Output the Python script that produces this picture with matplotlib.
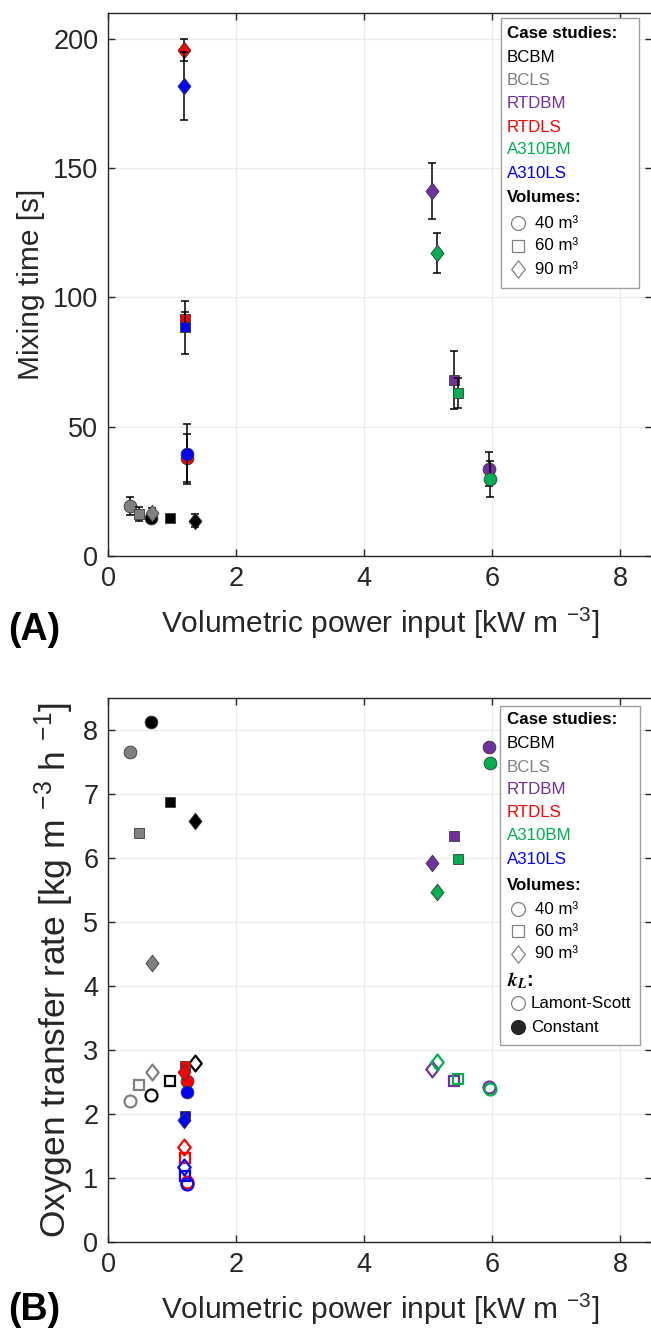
import matplotlib
matplotlib.use("Agg")
import matplotlib.pyplot as plt
from matplotlib.path import Path
from matplotlib.lines import Line2D
from matplotlib.patches import Rectangle

plt.rcParams['font.family'] = ['Liberation Sans', 'DejaVu Sans']
plt.rcParams['mathtext.fontset'] = 'custom'
plt.rcParams['mathtext.rm'] = 'Liberation Sans'
plt.rcParams['mathtext.it'] = 'Liberation Sans:italic'
plt.rcParams['mathtext.bf'] = 'Liberation Sans:bold'

# ---------------- data ----------------
cases = ['BCBM', 'BCLS', 'RTDBM', 'RTDLS', 'A310BM', 'A310LS']
case_colors = ['#000000', '#808080', '#7030A0', '#FF0000', '#00B050', '#0000FF']
volumes = ['40 m³', '60 m³', '90 m³']

# volumetric power input [kW m-3] for 40, 60, 90 m3
power_bcbm = [0.67, 0.97, 1.36]
power_bcls = [0.34, 0.49, 0.68]
power_rtdbm = [5.96, 5.40, 5.07]
power_rtdls = [1.23, 1.21, 1.19]
power_a310bm = [5.97, 5.47, 5.14]
power_a310ls = [1.23, 1.21, 1.19]

# mixing time [s]
mix_bcbm = [14.6, 14.7, 13.6]
mix_bcls = [19.5, 16.3, 16.5]
mix_rtdbm = [33.6, 68.0, 141.2]
mix_rtdls = [38.0, 91.7, 195.7]
mix_a310bm = [29.7, 63.1, 117.3]
mix_a310ls = [39.4, 88.5, 181.8]

mixerr_bcbm = [1.0, 1.0, 2.5]
mixerr_bcls = [3.5, 2.7, 2.0]
mixerr_rtdbm = [6.6, 11.3, 10.8]
mixerr_rtdls = [9.2, 2.6, 4.3]
mixerr_a310bm = [7.0, 5.7, 7.7]
mixerr_a310ls = [11.7, 10.2, 13.2]

# oxygen transfer rate [kg m-3 h-1], Lamont-Scott kL
otr_ls_bcbm = [2.29, 2.51, 2.79]
otr_ls_bcls = [2.21, 2.46, 2.65]
otr_ls_rtdbm = [2.42, 2.52, 2.71]
otr_ls_rtdls = [0.94, 1.31, 1.48]
otr_ls_a310bm = [2.39, 2.54, 2.81]
otr_ls_a310ls = [0.91, 1.03, 1.17]

# oxygen transfer rate, constant kL
otr_c_bcbm = [8.13, 6.88, 6.58]
otr_c_bcls = [7.66, 6.39, 4.36]
otr_c_rtdbm = [7.73, 6.34, 5.92]
otr_c_rtdls = [2.52, 2.75, 2.65]
otr_c_a310bm = [7.48, 5.99, 5.47]
otr_c_a310ls = [2.35, 1.97, 1.90]

power = [power_bcbm, power_bcls, power_rtdbm, power_rtdls, power_a310bm, power_a310ls]
mix = [mix_bcbm, mix_bcls, mix_rtdbm, mix_rtdls, mix_a310bm, mix_a310ls]
mixerr = [mixerr_bcbm, mixerr_bcls, mixerr_rtdbm, mixerr_rtdls, mixerr_a310bm, mixerr_a310ls]
otr_ls = [otr_ls_bcbm, otr_ls_bcls, otr_ls_rtdbm, otr_ls_rtdls, otr_ls_a310bm, otr_ls_a310ls]
otr_c = [otr_c_bcbm, otr_c_bcls, otr_c_rtdbm, otr_c_rtdls, otr_c_a310bm, otr_c_a310ls]

# ---------------- styles ----------------
diamond = Path([(0, 1), (0.78, 0), (0, -1), (-0.78, 0), (0, 1)],
               [Path.MOVETO, Path.LINETO, Path.LINETO, Path.LINETO, Path.CLOSEPOLY])
markers = ['o', 's', diamond]
msizes = [9.2, 7.6, 12.0]
edge_dark = '#3a3a3a'
spine_col = '#262626'
grid_col = '#EBEBEB'

W, H = 651, 1330
fig = plt.figure(figsize=(W / 100, H / 100), dpi=100)


def fx(px):
    return px / W


def fy(py):
    return 1 - py / H


axA = fig.add_axes([fx(108), fy(556), (652 - 108) / W, (556 - 13) / H])
axB = fig.add_axes([fx(108), fy(1242), (652 - 108) / W, (1242 - 698) / H])

tick_fs = 19.5
label_fs = 21.5

for ax in (axA, axB):
    ax.set_xlim(0, 8.5)
    ax.set_xticks([0, 2, 4, 6, 8])
    ax.grid(True, color=grid_col, linewidth=0.9)
    ax.set_axisbelow(True)
    for s in ax.spines.values():
        s.set_color(spine_col)
        s.set_linewidth(1.0)
    ax.tick_params(direction='in', length=5, width=1.0, color=spine_col,
                   labelsize=tick_fs, top=True, right=True, labelcolor=spine_col,
                   pad=7)
    ax.set_xlabel('Volumetric power input [kW m $^{-3}$]', fontsize=label_fs,
                  color=spine_col, labelpad=10)

# ---------------- panel A ----------------
axA.set_ylim(0, 210)
axA.set_yticks([0, 50, 100, 150, 200])
axA.set_ylabel('Mixing time [s]', fontsize=label_fs, color=spine_col, labelpad=6)
z = 3
for ci in range(len(cases)):
    for vi in range(3):
        axA.errorbar([power[ci][vi]], [mix[ci][vi]], yerr=[mixerr[ci][vi]],
                     fmt='none', ecolor='black', elinewidth=1.1, capsize=3,
                     capthick=1.1, zorder=z)
        axA.plot([power[ci][vi]], [mix[ci][vi]], linestyle='none',
                 marker=markers[vi], markersize=msizes[vi],
                 markerfacecolor=case_colors[ci], markeredgecolor=edge_dark,
                 markeredgewidth=0.6, zorder=z + 0.5)
        z += 1

# ---------------- panel B ----------------
axB.set_ylim(0, 8.5)
axB.set_yticks(range(0, 9))
axB.set_ylabel('Oxygen transfer rate [kg m $^{-3}$ h $^{-1}$]', fontsize=25.5,
               color=spine_col, labelpad=5)
z = 3
for ci in range(len(cases)):
    for vi in range(3):
        axB.plot([power[ci][vi]], [otr_ls[ci][vi]], linestyle='none',
                 marker=markers[vi], markersize=msizes[vi] - 0.6,
                 markerfacecolor='none', markeredgecolor=case_colors[ci],
                 markeredgewidth=1.6, zorder=z)
        z += 1
for ci in range(len(cases)):
    for vi in range(3):
        axB.plot([power[ci][vi]], [otr_c[ci][vi]], linestyle='none',
                 marker=markers[vi], markersize=msizes[vi],
                 markerfacecolor=case_colors[ci], markeredgecolor=edge_dark,
                 markeredgewidth=0.6, zorder=z)
        z += 1

# panel labels
fig.text(fx(8), fy(630), '(A)', fontsize=27, fontweight='bold', va='center', ha='left')
fig.text(fx(8), fy(1310), '(B)', fontsize=27, fontweight='bold', va='center', ha='left')

# ---------------- legends (drawn manually) ----------------
leg_fs = 12.2


def draw_legend(box, rows):
    x0, y0, x1, y1 = box
    fig.add_artist(Rectangle((fx(x0), fy(y1)), fx(x1) - fx(x0), (y1 - y0) / H,
                             transform=fig.transFigure, facecolor='white',
                             edgecolor='#A0A0A0', linewidth=1.0, zorder=10))
    for kind, txt, yc, extra in rows:
        if kind == 'head':
            fig.text(fx(507), fy(yc), txt, fontsize=leg_fs, fontweight='bold',
                     va='center', ha='left', zorder=11, **extra)
        elif kind == 'case':
            fig.text(fx(507), fy(yc), txt, fontsize=leg_fs, color=extra,
                     va='center', ha='left', zorder=11)
        else:
            mk, ms, fc, ec = extra
            fig.add_artist(Line2D([fx(518)], [fy(yc)], transform=fig.transFigure,
                                  linestyle='none', marker=mk, markersize=ms,
                                  markerfacecolor=fc, markeredgecolor=ec,
                                  markeredgewidth=0.9, zorder=11))
            fig.text(fx(535), fy(yc), txt, fontsize=leg_fs, va='center',
                     ha='left', zorder=11)


leg_msizes = [10.0, 8.5, 12.5]
rowsA = [('head', 'Case studies:', 34, {})]
ys = [57, 80.5, 104, 127, 150, 173]
for name, col, yy in zip(cases, case_colors, ys):
    rowsA.append(('case', name, yy, col))
rowsA.append(('head', 'Volumes:', 198, {}))
for vi, yy in enumerate([223, 246, 269]):
    rowsA.append(('mark', volumes[vi], yy, (markers[vi], leg_msizes[vi], 'none', '#808080')))
draw_legend((501, 18, 639, 288), rowsA)

rowsB = [('head', 'Case studies:', 720, {})]
ys = [743, 767, 790, 813, 836, 860]
for name, col, yy in zip(cases, case_colors, ys):
    rowsB.append(('case', name, yy, col))
rowsB.append(('head', 'Volumes:', 885, {}))
for vi, yy in enumerate([909, 931, 954]):
    rowsB.append(('mark', volumes[vi], yy, (markers[vi], leg_msizes[vi], 'none', '#808080')))
draw_legend((500, 706, 640, 1045), rowsB)
t = fig.text(fx(507), fy(981), r'$\mathbfit{k}_{\mathbfit{L}}$:', fontsize=leg_fs + 2,
             fontweight='bold', va='center', ha='left', zorder=11)
t.set_math_fontfamily('stix')
for txt, yy, fc in [('Lamont-Scott', 1003, 'none'), ('Constant', 1027, '#262626')]:
    fig.add_artist(Line2D([fx(518)], [fy(yy)], transform=fig.transFigure,
                          linestyle='none', marker='o', markersize=10.0,
                          markerfacecolor=fc, markeredgecolor='#808080' if fc == 'none' else '#262626',
                          markeredgewidth=0.9, zorder=11))
    fig.text(fx(531), fy(yy), txt, fontsize=leg_fs, va='center', ha='left', zorder=11)

fig.savefig('out.png', dpi=100)
